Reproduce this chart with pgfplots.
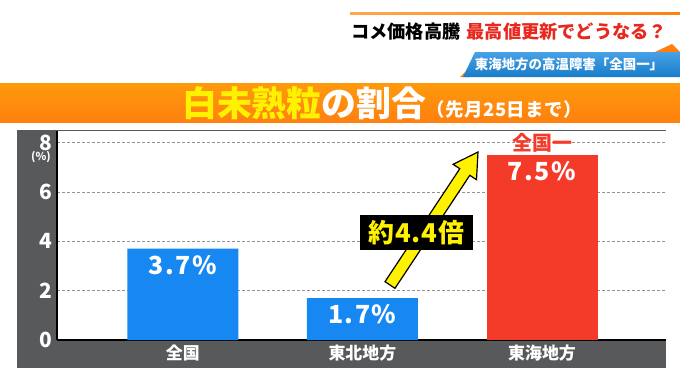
\documentclass[border=0pt]{standalone}
\usepackage{pgfplots}
\pgfplotsset{compat=1.18}
\usepackage{fontspec}
\setmainfont{Noto Sans CJK JP}
\definecolor{barblue}{HTML}{1787F2}
\definecolor{barred}{HTML}{F43B2A}
\definecolor{panel}{HTML}{58595B}
\definecolor{bandorange}{HTML}{FF800F}
\definecolor{headred}{HTML}{E8281E}
\definecolor{ttyellow}{HTML}{FFF200}
\definecolor{bannerblue}{HTML}{1A8ADF}
\begin{document}
\begin{tikzpicture}[x=1bp,y=1bp]
% background
\fill[white] (0,0) rectangle (680,382);
% top orange line
\shade[left color=orange!70, right color=bandorange] (350,367) rectangle (680,369.5);
% headline
\node[anchor=west, inner sep=0] at (351,350) {\bfseries\fontsize{18.3}{19}\selectfont コメ価格高騰\hspace{6bp}\textcolor{headred}{最高値更新でどうなる？}};
% blue banner
\fill[bandorange] (655,330) -- (672,338) -- (680,330) -- cycle;
\fill[bandorange] (460,305) -- (466,311) -- (470,305) -- cycle;
\shade[top color=bannerblue!80!white, bottom color=bannerblue!90!black] (463,305) -- (475,330) -- (680,330) -- (680,305) -- cycle;
\node[anchor=center, inner sep=0, white] at (569,318) {\bfseries\fontsize{13.5}{14}\selectfont 東海地方の高温障害「全国一」};
% orange band
\shade[top color=bandorange!80!yellow, bottom color=bandorange] (0,260) rectangle (680,299);
\node[anchor=west, inner sep=0] at (182,279) {\bfseries\fontsize{35}{35}\selectfont\textcolor{ttyellow}{白未熟粒}\textcolor{white}{の割合}\fontsize{18.5}{19}\selectfont\addfontfeatures{LetterSpace=3}\textcolor{white}{（先月25日まで）}};
% gray panel
\fill[panel] (17,14) rectangle (666,252);
\begin{axis}[
  at={(57bp,42bp)}, anchor=south west,
  scale only axis, width=609bp, height=209bp,
  xmin=-0.70, xmax=2.69, ymin=0, ymax=8.47,
  axis background/.style={fill=white},
  axis lines=left,
  axis line style={-, black, line width=1.3pt},
  ytick={0,2,4,6,8}, yticklabels={0,2,4,6,8},
  yticklabel style={white, font=\bfseries\fontsize{21}{21}\selectfont, xshift=-1bp},
  xtick={0,1,2}, xticklabels={全国,東北地方,東海地方},
  xticklabel style={white, font=\bfseries\fontsize{17}{17}\selectfont, yshift=-1bp},
  major tick length=0pt,
  ymajorgrids, grid style={gray!85, line width=0.8pt, dash pattern=on 3bp off 2bp},
  clip=false,
  /pgf/number format/assume math mode=true,
  nodes near coords={\pgfmathprintnumber[fixed,precision=1,fixed zerofill,assume math mode=true]{\pgfplotspointmeta}\%},
  every node near coord/.style={anchor=north, white, font=\bfseries\fontsize{25}{25}\selectfont\addfontfeatures{LetterSpace=6}, yshift=-3bp},
]
\addplot[ybar, bar width=111bp, bar shift=0pt, fill=barblue, draw=none] coordinates {(0,3.7) (1,1.7)};
\addplot[ybar, bar width=111bp, bar shift=0pt, fill=barred, draw=none] coordinates {(2,7.5)};
\node[anchor=south, text=barred, font=\bfseries\fontsize{20}{20}\selectfont, inner sep=0, yshift=2bp] at (axis cs:2,7.5) {全国一};
\end{axis}
% (%) label
\node[white, font=\bfseries\fontsize{11}{11}\selectfont] at (41,225) {(\%)};
% arrow
\filldraw[fill=ttyellow, draw=black, line width=1.2pt, line join=miter]
 (385.0,100.3) -- (459.8,213.3) -- (453.1,217.7) -- (478,230) -- (476.5,202.3) -- (469.8,206.7) -- (395.0,93.7) -- cycle;
% multiplier box
\fill[black] (360,132) rectangle (473,167);
\node[text=ttyellow, font=\bfseries\fontsize{26}{26}\selectfont\addfontfeatures{LetterSpace=3}, inner sep=0] at (416.5,149.5) {約4.4倍};
\end{tikzpicture}
\end{document}
